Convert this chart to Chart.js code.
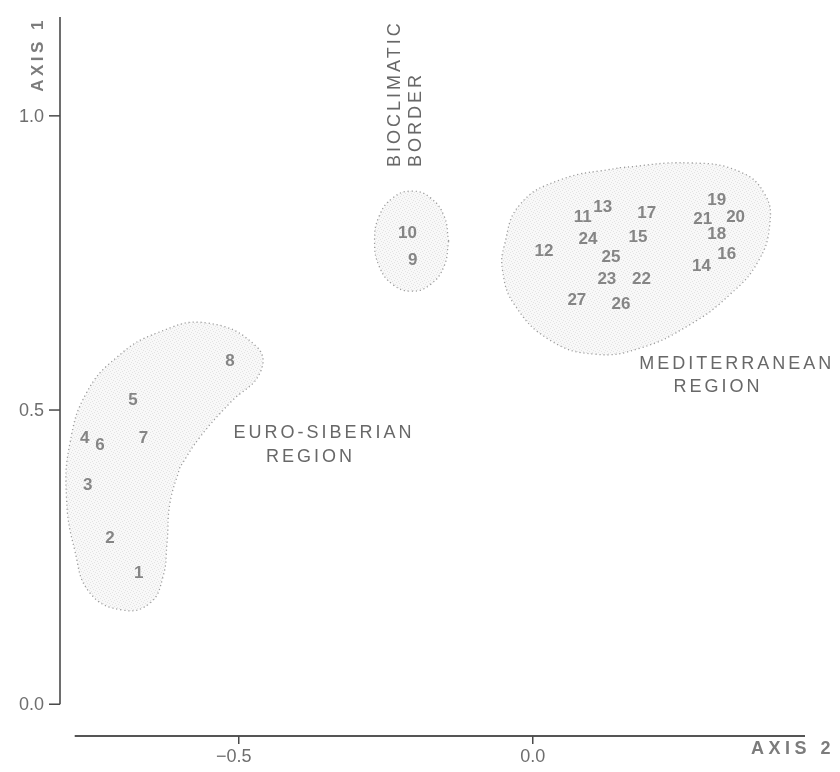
<!DOCTYPE html>
<html>
<head>
<meta charset="utf-8">
<script src="https://cdn.jsdelivr.net/npm/chart.js@4/dist/chart.umd.min.js"></script>
<style>
  html, body { margin: 0; padding: 0; background: #ffffff; }
  #wrap { width: 840px; height: 772px; }
</style>
</head>
<body>
<div id="wrap"><canvas id="c" width="840" height="772"></canvas></div>
<script>
// Site numbers and their ordination scores
const siteIds = ['1','2','3','4','5','6','7','8','9','10','11','12','13','14','15','16','17','18','19','20','21','22','23','24','25','26','27'];
const axis2Scores = [-0.670,-0.719,-0.757,-0.762,-0.680,-0.736,-0.662,-0.515,-0.204,-0.213,0.085,0.019,0.119,0.287,0.179,0.330,0.194,0.313,0.313,0.345,0.289,0.185,0.126,0.094,0.133,0.150,0.075];
const axis1Scores = [0.223,0.282,0.372,0.452,0.517,0.440,0.452,0.582,0.755,0.801,0.827,0.770,0.844,0.745,0.794,0.765,0.835,0.799,0.857,0.828,0.825,0.723,0.723,0.791,0.760,0.680,0.687];

// Outlines of the three groups (axis 2, axis 1)
const euroSiberianX = [-0.600,-0.617,-0.622,-0.629,-0.651,-0.697,-0.753,-0.779,-0.793,-0.787,-0.759,-0.707,-0.639,-0.554,-0.469,-0.464,-0.515,-0.566,-0.600];
const euroSiberianY = [0.403,0.342,0.274,0.216,0.172,0.160,0.189,0.262,0.352,0.444,0.529,0.590,0.631,0.648,0.607,0.563,0.512,0.454,0.403];
const borderX = [-0.143,-0.151,-0.1745,-0.206,-0.2375,-0.261,-0.269,-0.261,-0.2375,-0.206,-0.1745,-0.151,-0.143];
const borderY = [0.787,0.830,0.861,0.872,0.861,0.830,0.787,0.744,0.713,0.702,0.713,0.744,0.787];
const mediterraneanX = [0.148,0.267,0.352,0.395,0.403,0.383,0.335,0.267,0.182,0.105,0.029,-0.031,-0.051,-0.048,-0.022,0.046,0.148];
const mediterraneanY = [0.912,0.920,0.905,0.866,0.815,0.752,0.696,0.645,0.605,0.595,0.619,0.679,0.735,0.781,0.849,0.891,0.912];

// Axis ticks
const axis1Ticks = [0.0, 0.5, 1.0];
const axis1TickLabels = ['0.0', '0.5', '1.0'];
const axis2Ticks = [-0.5, 0.0];
const axis2TickLabels = ['\u22120.5', '0.0'];

// Region captions: [text, axis 2, axis 1]
const regionCaptions = [
  ['EURO-SIBERIAN', -0.355, 0.461],
  ['REGION', -0.378, 0.420],
  ['MEDITERRANEAN', 0.347, 0.578],
  ['REGION', 0.315, 0.539]
];
const borderCaptions = [
  ['BIOCLIMATIC', -0.235, 0.913],
  ['BORDER', -0.199, 0.913]
];

function zip(xs, ys) { return xs.map((x, i) => ({ x: x, y: ys[i] })); }

// light stippled fill for the group outlines
function stipple() {
  const p = document.createElement('canvas');
  p.width = 6; p.height = 6;
  const g = p.getContext('2d');
  g.fillStyle = 'rgba(0,0,0,0.028)';
  g.fillRect(0, 0, 6, 6);
  g.fillStyle = 'rgba(0,0,0,0.085)';
  [[0,0],[3,1],[1,3],[4,4],[2,5],[5,2]].forEach(d => g.fillRect(d[0], d[1], 1, 1));
  return g.createPattern(p, 'repeat');
}

const ctx0 = document.getElementById('c').getContext('2d');
const pat = stipple();

function groupSet(xs, ys) {
  return {
    type: 'line',
    data: zip(xs, ys),
    showLine: true,
    fill: 'shape',
    tension: 0.45,
    backgroundColor: pat,
    borderColor: '#9c9c9c',
    borderWidth: 1.3,
    borderDash: [1.2, 2.8],
    pointRadius: 0,
    pointHoverRadius: 0
  };
}

const FONT = '"Liberation Sans", Arial, Helvetica, sans-serif';

const decor = {
  id: 'decor',
  afterDatasetsDraw(chart) {
    const c = chart.ctx;
    const xs = chart.scales.x, ys = chart.scales.y;
    const area = chart.chartArea;
    c.save();
    // site numbers
    c.font = 'bold 17px ' + FONT;
    c.fillStyle = '#858585';
    c.textAlign = 'center';
    c.textBaseline = 'middle';
    c.letterSpacing = '0px';
    siteIds.forEach((id, i) => {
      c.fillText(id, xs.getPixelForValue(axis2Scores[i]), ys.getPixelForValue(axis1Scores[i]));
    });

    // region captions
    c.font = '18px ' + FONT;
    c.fillStyle = '#686868';
    c.letterSpacing = '3px';
    regionCaptions.forEach(r => {
      c.fillText(r[0], xs.getPixelForValue(r[1]), ys.getPixelForValue(r[2]));
    });
    borderCaptions.forEach(r => {
      c.save();
      c.translate(xs.getPixelForValue(r[1]), ys.getPixelForValue(r[2]));
      c.rotate(-Math.PI / 2);
      c.textAlign = 'left';
      c.fillText(r[0], 0, 0);
      c.restore();
    });

    // axis lines
    c.strokeStyle = '#4a4a4a';
    c.lineWidth = 1.6;
    const y0 = ys.getPixelForValue(0);
    c.beginPath();
    c.moveTo(area.left, area.top);
    c.lineTo(area.left, y0);
    c.stroke();
    c.strokeStyle = '#555555';
    c.lineWidth = 2.2;
    c.beginPath();
    c.moveTo(xs.getPixelForValue(-0.779), area.bottom);
    c.lineTo(area.right, area.bottom);
    c.stroke();

    // tick marks and labels
    c.strokeStyle = '#4a4a4a';
    c.lineWidth = 1.5;
    c.letterSpacing = '0px';
    c.font = '18px ' + FONT;
    c.fillStyle = '#6e6e6e';
    axis1Ticks.forEach((v, i) => {
      const py = ys.getPixelForValue(v);
      c.beginPath();
      c.moveTo(area.left - 11, py);
      c.lineTo(area.left, py);
      c.stroke();
      c.textAlign = 'right';
      c.textBaseline = 'middle';
      c.fillText(axis1TickLabels[i], area.left - 16, py + 1);
    });
    axis2Ticks.forEach((v, i) => {
      const px = xs.getPixelForValue(v);
      c.beginPath();
      c.moveTo(px, area.bottom);
      c.lineTo(px, area.bottom + 8);
      c.stroke();
      c.textAlign = 'center';
      c.textBaseline = 'middle';
      c.fillText(axis2TickLabels[i], px - (v < 0 ? 5 : 0), area.bottom + 21);
    });

    // axis titles
    c.font = 'bold 18px ' + FONT;
    c.fillStyle = '#7c7c7c';
    c.letterSpacing = '4.5px';
    c.textAlign = 'right';
    c.textBaseline = 'middle';
    c.fillText('AXIS 2', area.right + 30, area.bottom + 13);
    c.font = 'bold 17px ' + FONT;
    c.letterSpacing = '3.5px';
    c.save();
    c.translate(area.left - 22, area.top);
    c.rotate(-Math.PI / 2);
    c.textAlign = 'right';
    c.fillText('AXIS 1', 0, 0);
    c.restore();
    c.restore();
  }
};

new Chart(ctx0, {
  type: 'scatter',
  data: {
    datasets: [
      groupSet(euroSiberianX, euroSiberianY),
      groupSet(borderX, borderY),
      groupSet(mediterraneanX, mediterraneanY),
      {
        label: 'sites',
        data: zip(axis2Scores, axis1Scores),
        pointRadius: 0,
        pointHoverRadius: 0,
        showLine: false
      }
    ]
  },
  options: {
    responsive: false,
    animation: false,
    events: [],
    layout: { padding: { left: 60, right: 35, top: 17, bottom: 36 } },
    plugins: { legend: { display: false }, tooltip: { enabled: false } },
    scales: {
      x: { type: 'linear', min: -0.804, max: 0.463, display: false },
      y: { type: 'linear', min: -0.054, max: 1.168, display: false }
    }
  },
  plugins: [decor]
});
</script>
</body>
</html>
